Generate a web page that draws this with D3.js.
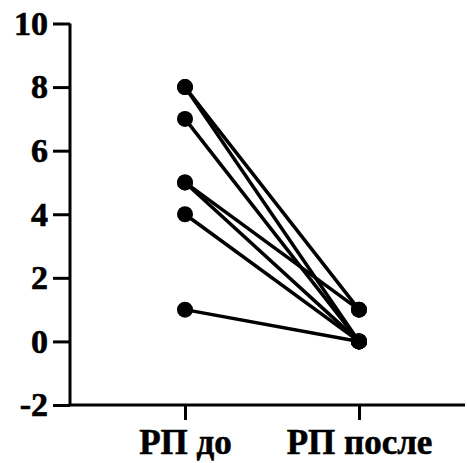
<!DOCTYPE html>
<html>
<head>
<meta charset="utf-8">
<script src="https://cdn.jsdelivr.net/npm/d3@7"></script>
<style>
  html, body { margin: 0; padding: 0; background: #fff; }
  svg { display: block; }
</style>
</head>
<body>
<svg id="chart" width="467" height="463"></svg>
<script>
// Paired scores for each subject, before and after
const categories = ["РП до", "РП после"];
const before = [8, 8, 7, 5, 5, 4, 1];
const after  = [1, 0, 0, 1, 0, 0, 0];
const yTicks = [-2, 0, 2, 4, 6, 8, 10];

const svg = d3.select("#chart");
const mLeft = 70, mRight = 465, mTop = 23.5, mBottom = 405;

const y = d3.scaleLinear().domain([-2, 10]).range([mBottom, mTop]);
const x = d3.scalePoint().domain(categories).range([185, 359]);

const fontFamily = "Liberation Serif, Times New Roman, serif";

// Y axis
const yAxis = svg.append("g")
  .attr("transform", `translate(${mLeft},0)`)
  .call(d3.axisLeft(y).tickValues(yTicks).tickSize(17).tickPadding(5)
    .tickFormat(d => String(d)));
yAxis.select(".domain").attr("d", `M0,${mTop}V${mBottom}`);

// X axis
const xAxis = svg.append("g")
  .attr("transform", `translate(0,${mBottom})`)
  .call(d3.axisBottom(x).tickSize(15).tickPadding(10));
xAxis.select(".domain").attr("d", `M${mLeft},0H${mRight}`);

[yAxis, xAxis].forEach(g => {
  g.attr("font-family", fontFamily);
  g.selectAll(".domain, .tick line")
    .attr("stroke", "#000").attr("stroke-width", 3);
  g.selectAll("text")
    .style("font-family", fontFamily)
    .style("font-weight", "bold")
    .attr("fill", "#000")
    .attr("stroke", "#000")
    .attr("stroke-width", 0.6);
});
yAxis.selectAll("text").style("font-size", "34px").attr("dy", "0.32em");
xAxis.selectAll("text").style("font-size", "35px").attr("y", 49).attr("dy", 0);

// Connecting lines per subject
const pairs = before.map((b, i) => [b, after[i]]);
svg.append("g").selectAll("line")
  .data(pairs)
  .join("line")
  .attr("x1", x(categories[0]))
  .attr("x2", x(categories[1]))
  .attr("y1", d => y(d[0]))
  .attr("y2", d => y(d[1]))
  .attr("stroke", "#000")
  .attr("stroke-width", 3.5);

// Points
const pts = [];
pairs.forEach(d => {
  pts.push({ c: categories[0], v: d[0] });
  pts.push({ c: categories[1], v: d[1] });
});
svg.append("g").selectAll("circle")
  .data(pts)
  .join("circle")
  .attr("cx", d => x(d.c))
  .attr("cy", d => y(d.v))
  .attr("r", 8)
  .attr("fill", "#000");
</script>
</body>
</html>
